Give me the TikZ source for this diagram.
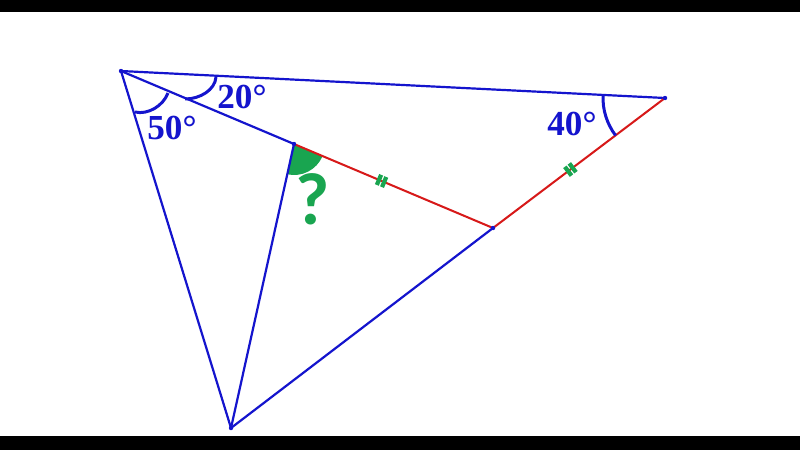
\documentclass[tikz,border=0pt]{standalone}
\usepackage{fontspec}
\setmainfont{Liberation Serif}
\newfontfamily\qfont{Carlito}
\definecolor{lblue}{RGB}{20,20,205}
\definecolor{lred}{RGB}{215,25,25}
\definecolor{lgreen}{RGB}{25,165,80}
\tikzset{
  bl/.style={draw=lblue, line width=1.25pt},
  rd/.style={draw=lred, line width=1.15pt},
  arcline/.style={draw=lblue, line width=1.7pt},
  angtxt/.style={text=lblue, font=\fontsize{20}{20}\selectfont\bfseries, inner sep=0pt},
  vdot/.style={fill=lblue},
  dtick/.pic={\draw[lgreen, line width=2.4pt] (-2.8,-5.5) -- (-2.8,5.5) (2.8,-5.5) -- (2.8,5.5);}
}
\begin{document}
\begin{tikzpicture}[x=0.02cm,y=-0.02cm]
\useasboundingbox (0,0) rectangle (800,450);
\fill[white] (0,0) rectangle (800,450);
\fill[black] (0,0) rectangle (800,12);
\fill[black] (0,436) rectangle (800,450);
\coordinate (A) at (121,71);
\coordinate (B) at (665,98);
\coordinate (C) at (231,428);
\coordinate (D) at (294,144);
\coordinate (E) at (493,228);
% green sector
\fill[lgreen] (D) -- ++(22.9:31) arc[start angle=22.9, end angle=102.5, radius=31] -- cycle;
% lines
\draw[bl] (A) -- (B);
\draw[bl] (A) -- (C);
\draw[bl] (A) -- (D);
\draw[bl] (D) -- (C);
\draw[bl] (C) -- (E);
\draw[rd] (D) -- (E) pic[pos=0.44, sloped]{dtick};
\draw[rd] (E) -- (B) pic[pos=0.45, sloped]{dtick};
% angle arcs
\draw[arcline] (216,77) .. controls (215,90) and (200,99) .. (185,99);
\draw[arcline] (135,112) .. controls (148,115) and (163,106) .. (168,93);
\draw[arcline] (B) ++(142.9:62) arc[start angle=142.9, end angle=182.8, radius=62];
% vertex dots
\foreach \p in {A,B,C,D,E} \fill[vdot] (\p) circle (2.2);
% labels
\node[angtxt] (l20) at (242,97) {20°};
\node[angtxt] (l50) at (172,128) {50°};
\node[angtxt] (l40) at (572,124) {40°};
\node[text=lgreen, font=\qfont\fontsize{42}{42}\selectfont\bfseries, inner sep=0pt] (q) at (313,199) {?};
\end{tikzpicture}
\end{document}
